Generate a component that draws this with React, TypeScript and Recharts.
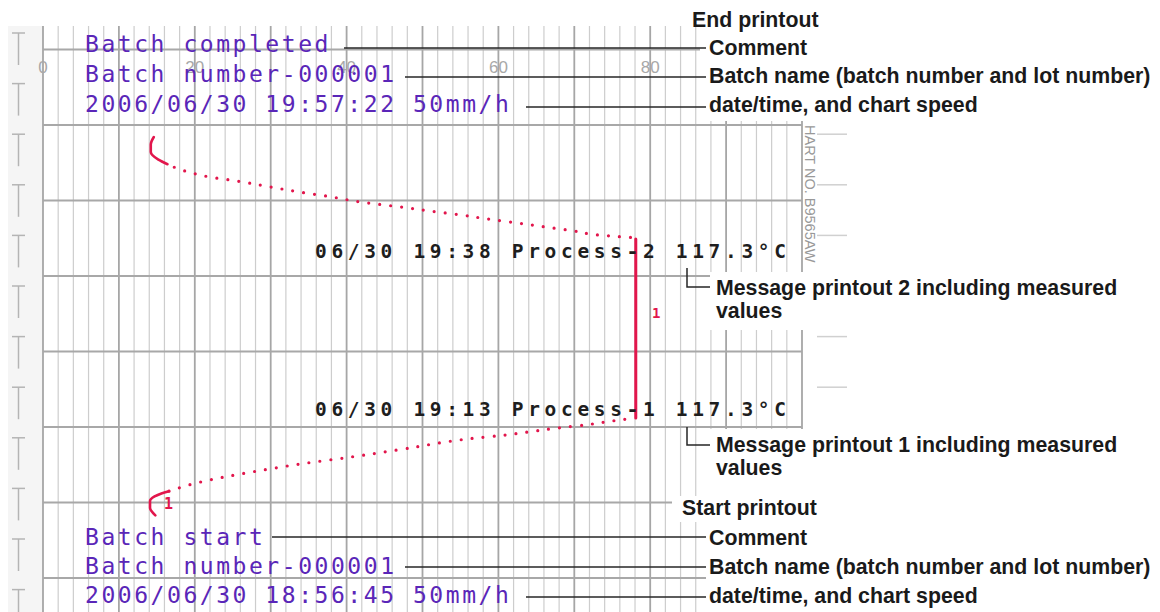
import React from 'react';
import { ScatterChart, Scatter, XAxis, YAxis, ReferenceLine } from 'recharts';

// pen 1 trace: v = pen position (% of span), u = paper advance in mm above the lowest heavy line
const startHook = [
  { v: 14.8, u: 8.3 }, { v: 14.1, u: 9.3 }, { v: 14.1, u: 10.2 }, { v: 14.7, u: 10.8 },
  { v: 15.6, u: 11.2 }, { v: 16.6, u: 11.5 },
];
const riseDots = [
  { v: 16.6, u: 11.5 }, { v: 20.7, u: 12.7 }, { v: 27.3, u: 14.0 }, { v: 33.9, u: 15.1 },
  { v: 40.4, u: 16.0 }, { v: 47.0, u: 17.0 }, { v: 56.7, u: 18.5 }, { v: 60.6, u: 18.9 },
  { v: 64.4, u: 19.4 }, { v: 68.1, u: 19.9 }, { v: 71.7, u: 20.3 }, { v: 75.0, u: 20.8 },
  { v: 77.4, u: 21.1 },
];
const holdLine = [{ v: 78.1, u: 21.2 }, { v: 78.1, u: 44.9 }];
const fallDots = [
  { v: 77.4, u: 45.1 }, { v: 73.4, u: 45.4 }, { v: 69.7, u: 46.0 }, { v: 66.1, u: 46.5 },
  { v: 62.6, u: 47.0 }, { v: 58.9, u: 47.5 }, { v: 54.9, u: 48.1 }, { v: 51.0, u: 48.6 },
  { v: 47.4, u: 49.1 }, { v: 41.8, u: 49.8 }, { v: 37.8, u: 50.5 }, { v: 33.9, u: 51.1 },
  { v: 29.9, u: 51.8 }, { v: 26.0, u: 52.5 }, { v: 22.0, u: 53.1 }, { v: 18.7, u: 53.9 },
  { v: 16.4, u: 54.8 },
];
const endHook = [
  { v: 16.4, u: 54.8 }, { v: 15.2, u: 55.4 }, { v: 14.2, u: 56.4 }, { v: 14.2, u: 57.4 },
  { v: 14.6, u: 58.4 },
];

const scaleTicks = [0, 20, 40, 60, 80];
const paperRows = [0, 10, 20, 30, 40, 50, 60, 70];

const endPrint = ['Batch completed', 'Batch number-000001', '2006/06/30 19:57:22 50mm/h'];
const startPrint = ['Batch start', 'Batch number-000001', '2006/06/30 18:56:45 50mm/h'];
const messages = ['06/30 19:38 Process-2 117.3°C', '06/30 19:13 Process-1 117.3°C'];
const notes = ['Comment', 'Batch name (batch number and lot number)', 'date/time, and chart speed'];
const messageNotes = ['Message printout 2 including measured', 'Message printout 1 including measured'];

const W = 1160;
const H = 612;
const RED = '#e2164c';
const PURPLE = '#5a26b8';
const LABEL_FONT = '"Liberation Sans", Arial, sans-serif';
const PRINT_FONT = '"DejaVu Sans Mono", monospace';

const minorCols = Array.from({ length: 51 }, (_, i) => i * 2).filter((v) => v % 10 !== 0);
const decadeCols = Array.from({ length: 11 }, (_, i) => i * 10);
const sprocketRows = Array.from({ length: 12 }, (_, i) => 33 + i * 50.6);

const noMark = () => <g />;

export default function App() {
  const topLines = [52, 82, 112];
  const botLines = [545, 574, 603];
  const topPtr = [48, 77, 107];
  const botPtr = [537, 567, 597];
  const ptrStart = [[344, 405, 526], [272, 405, 526]];

  return (
    <div style={{ position: 'absolute', left: 0, top: 0, width: W, height: H, background: '#fff', overflow: 'hidden' }}>
      {/* paper edge strip, under the chart */}
      <svg width={W} height={H} style={{ position: 'absolute', left: 0, top: 0 }}>
        <rect x={8} y={26} width={35} height={H - 26} fill="#f5f5f5" />
      </svg>

      <ScatterChart width={W} height={H} margin={{ top: 26, right: 358, bottom: 0, left: 43 }}>
        <XAxis type="number" dataKey="v" domain={[0, 100]} hide allowDataOverflow />
        <YAxis type="number" dataKey="u" domain={[-4.5, 73.1]} hide allowDataOverflow />
        {minorCols.map((v) => (
          <ReferenceLine key={'c' + v} x={v} stroke="#cdcdcd" strokeWidth={1.2} />
        ))}
        {decadeCols.map((v) => (
          <ReferenceLine key={'d' + v} x={v} stroke="#a6a6a6" strokeWidth={1.8} />
        ))}
        {paperRows.map((u) => (
          <ReferenceLine key={'r' + u} y={u} stroke="#a8a8a8" strokeWidth={2} />
        ))}
        {scaleTicks.map((v) => (
          <ReferenceLine
            key={'s' + v}
            x={v}
            stroke="none"
            label={{ value: String(v), position: 'insideTop', offset: 35, fill: '#a8a8a8', fontSize: 17, fontFamily: LABEL_FONT }}
          />
        ))}
        <Scatter data={startHook} shape={noMark} isAnimationActive={false} lineJointType="monotoneY"
          line={{ stroke: RED, strokeWidth: 2.6, strokeLinecap: 'round' }} />
        <Scatter data={riseDots} shape={noMark} isAnimationActive={false} lineJointType="monotoneY"
          line={{ stroke: RED, strokeWidth: 3.2, strokeDasharray: '0 11', strokeLinecap: 'round' }} />
        <Scatter data={holdLine} shape={noMark} isAnimationActive={false}
          line={{ stroke: RED, strokeWidth: 3, strokeLinecap: 'round' }} />
        <Scatter data={fallDots} shape={noMark} isAnimationActive={false} lineJointType="monotoneY"
          line={{ stroke: RED, strokeWidth: 3.2, strokeDasharray: '0 11', strokeLinecap: 'round' }} />
        <Scatter data={endHook} shape={noMark} isAnimationActive={false} lineJointType="monotoneY"
          line={{ stroke: RED, strokeWidth: 2.6, strokeLinecap: 'round' }} />
      </ScatterChart>

      <svg width={W} height={H} style={{ position: 'absolute', left: 0, top: 0 }}>
        {/* sprocket marks */}
        {sprocketRows.map((y) => (
          <g key={'t' + y} stroke="#b4b4b4" strokeWidth={1.5}>
            <line x1={12} y1={y} x2={25} y2={y} />
            <line x1={18.5} y1={y} x2={18.5} y2={y + 32} />
            <line x1={817} y1={y} x2={847} y2={y} stroke="#d0d0d0" />
          </g>
        ))}
        <text transform="translate(805,125) rotate(90)" fontSize={14.5} fill="#999" fontFamily={LABEL_FONT}>
          HART NO. B9565AW
        </text>

        {/* label backgrounds */}
        <rect x={700} y={0} width={460} height={121} fill="#fff" />
        <rect x={710} y={272} width={450} height={58} fill="#fff" />
        <rect x={706} y={429} width={454} height={183} fill="#fff" />
        <rect x={672} y={496} width={40} height={26} fill="#fff" />

        {/* recorder printouts */}
        {endPrint.map((s, i) => (
          <text key={'e' + i} x={85} y={topLines[i]} fill={PURPLE} fontSize={23} letterSpacing={2.55}
            fontFamily={PRINT_FONT}>{s}</text>
        ))}
        {startPrint.map((s, i) => (
          <text key={'s' + i} x={85} y={botLines[i]} fill={PURPLE} fontSize={23} letterSpacing={2.55}
            fontFamily={PRINT_FONT}>{s}</text>
        ))}
        {messages.map((s, i) => (
          <text key={'m' + i} x={315} y={[258, 416][i]} fill="#1e1e1e" fontSize={19.5} fontWeight="bold"
            letterSpacing={4.66} fontFamily={PRINT_FONT}>{s}</text>
        ))}
        <text x={652} y={318} fill={RED} fontSize={14} fontWeight="bold" fontFamily={PRINT_FONT}>1</text>
        <text x={164} y={509} fill={RED} fontSize={15} fontWeight="bold" fontFamily={PRINT_FONT}>1</text>

        {/* callouts */}
        <g stroke="#262626" strokeWidth={1.5} fill="none">
          {topPtr.map((y, i) => (
            <line key={'tp' + i} x1={ptrStart[0][i]} y1={y} x2={706} y2={y} />
          ))}
          {botPtr.map((y, i) => (
            <line key={'bp' + i} x1={ptrStart[1][i]} y1={y} x2={706} y2={y} />
          ))}
          <path d="M687,268 V287 H710" />
          <path d="M687,427 V445 H710" />
        </g>
        <g fill="#1a1a1a" fontSize={21.3} fontWeight="bold" fontFamily={LABEL_FONT}>
          <text x={692} y={27}>End printout</text>
          {notes.map((s, i) => (
            <text key={'tn' + i} x={709} y={[55, 83, 112][i]}>{s}</text>
          ))}
          <text x={716} y={295}>{messageNotes[0]}</text>
          <text x={716} y={318}>values</text>
          <text x={716} y={452}>{messageNotes[1]}</text>
          <text x={716} y={475}>values</text>
          <text x={682} y={515}>Start printout</text>
          {notes.map((s, i) => (
            <text key={'bn' + i} x={709} y={[545, 574, 603][i]}>{s}</text>
          ))}
        </g>
      </svg>
    </div>
  );
}
